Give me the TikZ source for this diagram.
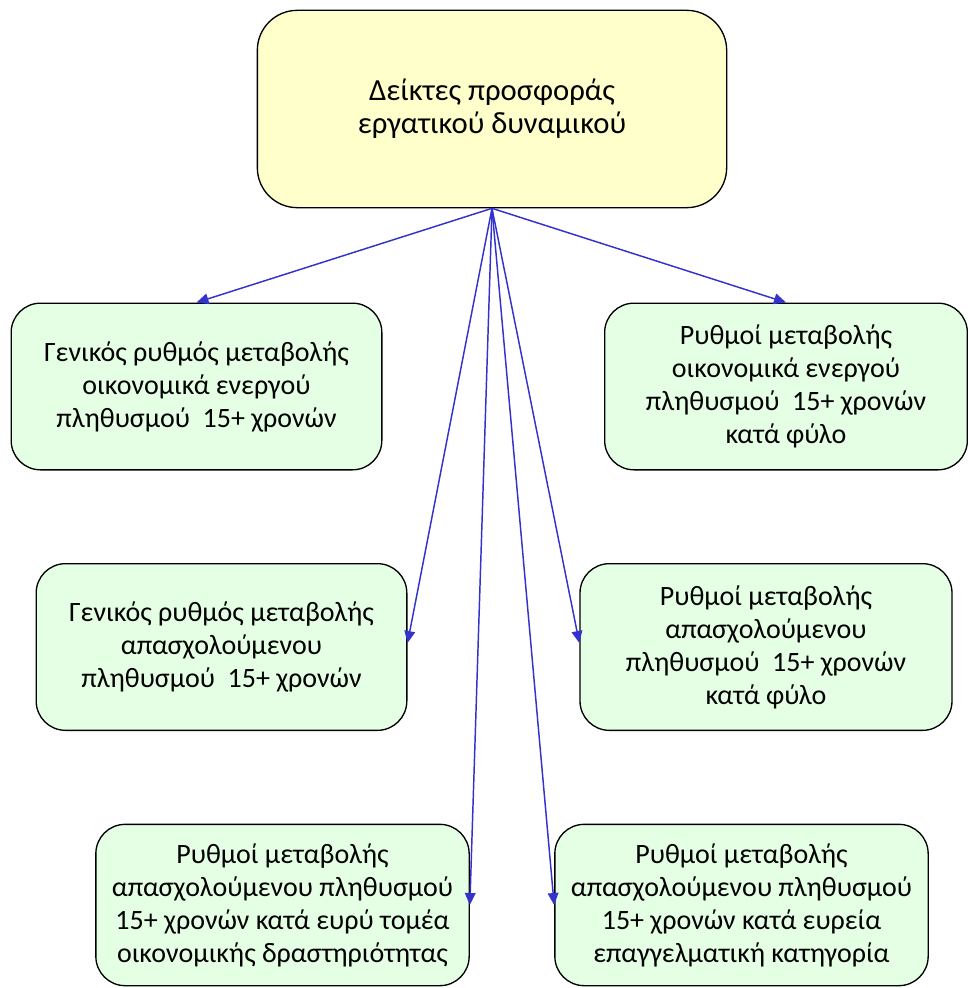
\documentclass[tikz,border=0pt]{standalone}
\usepackage{fontspec}
\setmainfont{Carlito}
\usepackage{tikz}
\usetikzlibrary{arrows.meta}
\usepackage{xcolor}
\definecolor{topfill}{HTML}{FFFFCC}
\definecolor{boxfill}{HTML}{E5FFE5}
\definecolor{arrowblue}{HTML}{3333CC}

\begin{document}
\begin{tikzpicture}[x=0.75pt, y=-0.75pt,
        topbox/.style={draw=black, line width=1pt, fill=topfill, rounded corners=30pt,
            minimum width=352pt, minimum height=148pt, align=center,
            font=\fontsize{23}{24.75}\selectfont},
        databox/.style={draw=black, line width=1pt, fill=boxfill, rounded corners=22pt,
            minimum width=278pt, minimum height=125pt, align=center,
            font=\fontsize{21}{24.75}\selectfont},
        link/.style={draw=arrowblue, line width=1.1pt,
            -{Triangle[length=9pt, width=8pt]}}]
        \useasboundingbox (0,0) rectangle (967,988);

        % Top box
        \node[topbox] (top) at (492,109) {Δείκτες προσφοράς\\εργατικού δυναμικού};

        % Left column
        \node[databox] (l1) at (196.5,386.5) {Γενικός ρυθμός μεταβολής\\οικονομικά ενεργού\\πληθυσμού\ \ 15+ χρονών};
        \node[databox] (l2) at (221.5,647) {Γενικός ρυθμός μεταβολής\\απασχολούμενου\\πληθυσμού\ \ 15+ χρονών};
        \node[databox, minimum width=280pt, minimum height=121pt] (l3) at (282.5,905) {Ρυθμοί μεταβολής\\απασχολούμενου πληθυσμού\\15+ χρονών κατά ευρύ τομέα\\οικονομικής δραστηριότητας};

        % Right column
        \node[databox, minimum width=272pt] (r1) at (786,386.5) {Ρυθμοί μεταβολής\\οικονομικά ενεργού\\πληθυσμού\ \ 15+ χρονών\\κατά φύλο};
        \node[databox, minimum width=279pt] (r2) at (766,647) {Ρυθμοί μεταβολής\\απασχολούμενου\\πληθυσμού\ \ 15+ χρονών\\κατά φύλο};
        \node[databox, minimum width=280pt, minimum height=121pt] (r3) at (741.5,905) {Ρυθμοί μεταβολής\\απασχολούμενου πληθυσμού\\15+ χρονών κατά ευρεία\\επαγγελματική κατηγορία};

        % Arrows
        \draw[link] (top.south) -- (l1.north);
        \draw[link] (top.south) -- (r1.north);
        \draw[link] (top.south) -- ([yshift=3pt]l2.east);
        \draw[link] (top.south) -- ([yshift=3pt]r2.west);
        \draw[link] (top.south) -- (l3.east);
        \draw[link] (top.south) -- (r3.west);
\end{tikzpicture}
\end{document}
